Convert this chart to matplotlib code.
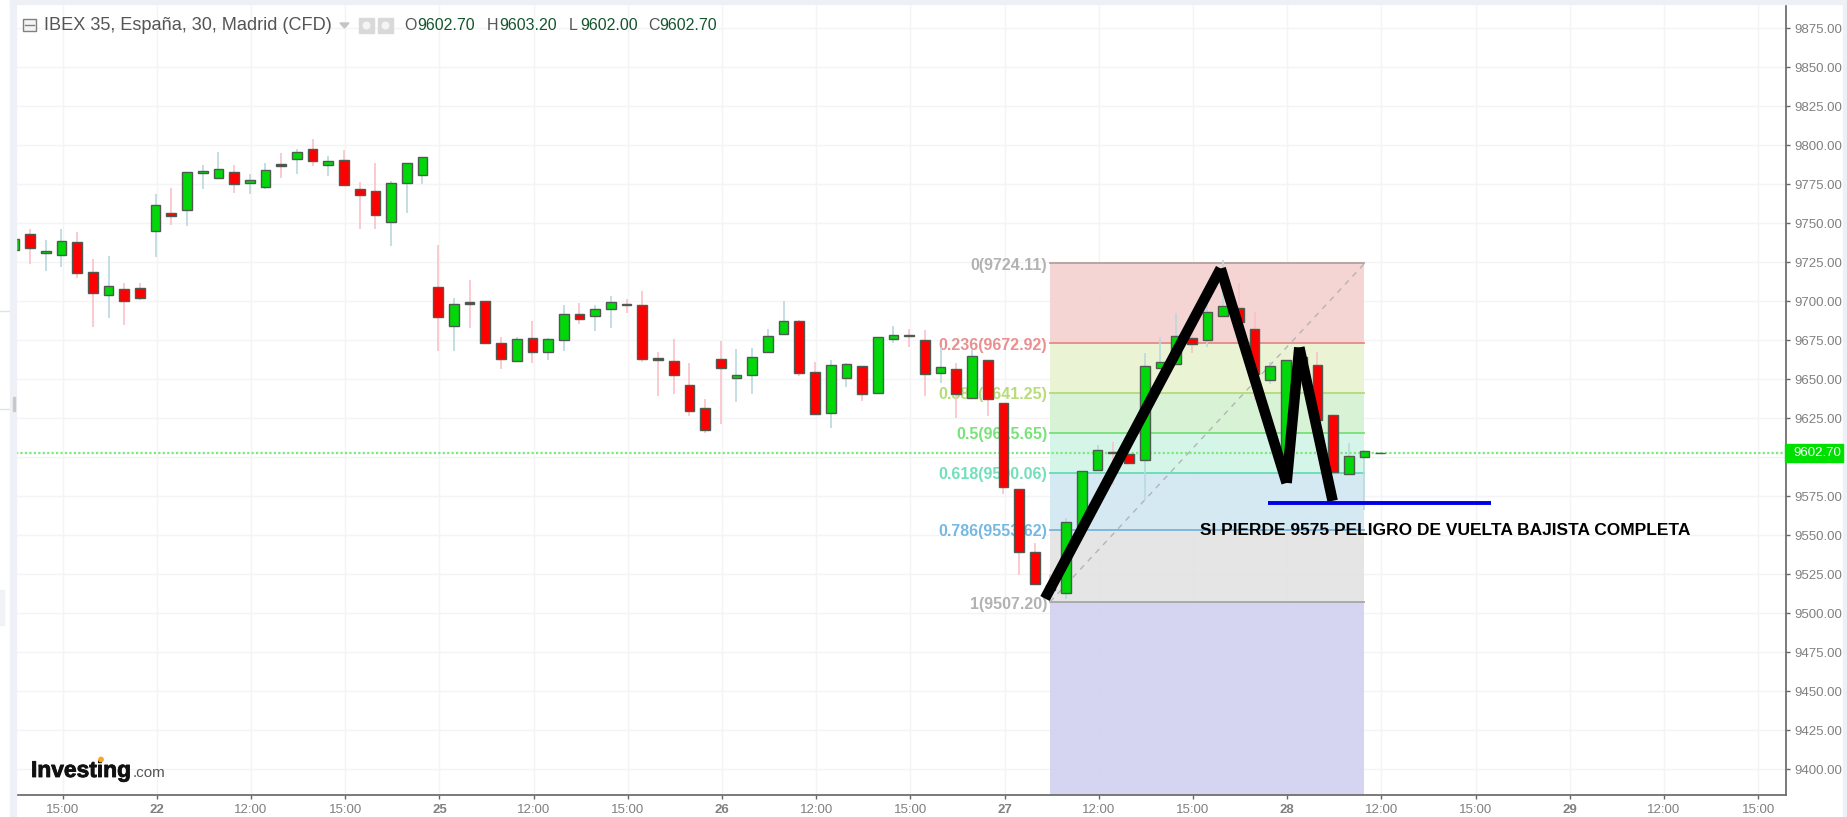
import matplotlib
matplotlib.use("Agg")
import matplotlib.pyplot as plt
import matplotlib.patheffects as pe
from matplotlib.patches import Rectangle, Polygon, Ellipse
from matplotlib.lines import Line2D

plt.rcParams['font.family'] = ['Liberation Sans', 'DejaVu Sans']

W = 1847
H = 817

# candles, oldest first
opens = [9732.7, 9742.9, 9731.0, 9729.5, 9737.8, 9718.4, 9703.6, 9707.5, 9708.3, 9744.8,
         9756.2, 9758.5, 9782.2, 9778.6, 9782.7, 9775.8, 9773.1, 9787.8, 9791.0, 9797.2,
         9787.4, 9790.6, 9772.0, 9770.3, 9750.6, 9776.0, 9781.0, 9709.2, 9684.2, 9699.2,
         9700.2, 9672.9, 9661.8, 9676.5, 9667.5, 9674.8, 9691.7, 9690.6, 9694.9, 9698.3,
         9697.4, 9663.7, 9661.3, 9646.2, 9631.6, 9662.8, 9650.9, 9652.4, 9667.5, 9679.1,
         9687.4, 9654.7, 9628.4, 9650.9, 9658.3, 9640.8, 9675.4, 9678.6, 9675.2, 9653.9,
         9656.2, 9637.8, 9662.0, 9634.6, 9579.5, 9539.1, 9517.9, 9513.2, 9555.3, 9591.7,
         9603.6, 9601.7, 9598.1, 9657.3, 9659.6, 9676.5, 9675.0, 9690.6, 9695.7, 9682.0,
         9649.6, 9602.3, 9664.0, 9659.0, 9627.3, 9588.9, 9599.8, 9602.7]
highs = [9739.5, 9746.1, 9739.1, 9746.1, 9744.6, 9727.1, 9728.8, 9711.9, 9711.9, 9768.4,
         9772.8, 9782.5, 9787.2, 9795.3, 9787.2, 9781.4, 9788.6, 9794.6, 9797.4, 9803.8,
         9792.9, 9796.8, 9776.3, 9788.6, 9776.9, 9788.4, 9792.5, 9736.0, 9701.7, 9713.5,
         9700.2, 9677.1, 9676.7, 9687.4, 9676.1, 9697.4, 9698.5, 9697.4, 9703.2, 9701.1,
         9706.2, 9667.1, 9675.4, 9660.1, 9637.2, 9674.4, 9669.5, 9670.1, 9682.1, 9699.8,
         9687.8, 9660.7, 9662.2, 9660.1, 9658.6, 9677.1, 9684.0, 9682.3, 9681.6, 9670.7,
         9660.1, 9668.6, 9662.2, 9634.8, 9579.7, 9545.1, 9525.4, 9560.7, 9591.2, 9607.7,
         9609.8, 9602.3, 9666.5, 9676.7, 9692.5, 9681.4, 9698.5, 9726.3, 9711.3, 9693.2,
         9661.1, 9662.0, 9666.0, 9667.1, 9627.3, 9608.8, 9604.5, 9603.2]
lows = [9732.7, 9724.1, 9719.2, 9722.0, 9714.9, 9683.1, 9688.9, 9684.6, 9700.6, 9728.0,
        9748.7, 9748.1, 9772.0, 9778.6, 9769.2, 9768.6, 9771.6, 9779.2, 9781.4, 9786.5,
        9780.1, 9774.5, 9746.1, 9746.1, 9735.2, 9756.2, 9775.0, 9668.2, 9668.2, 9682.5,
        9673.3, 9656.4, 9661.8, 9660.1, 9662.2, 9668.0, 9685.3, 9681.0, 9682.5, 9692.5,
        9660.9, 9639.1, 9640.4, 9626.3, 9615.2, 9621.2, 9635.5, 9640.6, 9667.5, 9679.0,
        9652.1, 9626.9, 9619.0, 9645.1, 9636.1, 9640.8, 9672.9, 9670.3, 9639.1, 9647.2,
        9624.8, 9637.8, 9626.1, 9576.3, 9524.4, 9518.8, 9513.7, 9509.4, 9555.3, 9591.7,
        9582.0, 9596.2, 9572.4, 9657.3, 9659.6, 9666.9, 9670.3, 9690.6, 9675.0, 9636.5,
        9646.8, 9598.1, 9658.0, 9623.7, 9590.4, 9588.9, 9566.0, 9602.0]
closes = [9739.5, 9733.9, 9732.2, 9738.6, 9717.9, 9705.1, 9709.8, 9700.0, 9702.1, 9761.7,
          9754.7, 9782.5, 9783.5, 9784.8, 9775.2, 9777.8, 9784.2, 9786.7, 9795.7, 9789.7,
          9789.9, 9774.5, 9767.9, 9755.5, 9775.4, 9788.4, 9792.1, 9690.0, 9698.3, 9697.9,
          9673.3, 9662.6, 9675.7, 9667.5, 9675.9, 9691.7, 9688.5, 9695.1, 9699.6, 9697.2,
          9662.6, 9662.4, 9652.6, 9629.3, 9617.7, 9657.3, 9652.8, 9664.1, 9677.8, 9687.4,
          9653.9, 9627.8, 9659.0, 9659.8, 9640.2, 9677.1, 9678.0, 9677.6, 9653.0, 9657.7,
          9640.2, 9664.8, 9637.2, 9580.8, 9539.5, 9518.8, 9514.7, 9558.5, 9591.2, 9604.3,
          9602.6, 9596.2, 9658.3, 9661.1, 9677.8, 9672.6, 9692.9, 9696.8, 9686.7, 9653.6,
          9658.3, 9662.0, 9660.0, 9623.7, 9590.4, 9600.6, 9604.1, 9602.7]

y_ticks = [9400 + 25 * i for i in range(20)]
x_tick_pos = [3.08 + 6 * i for i in range(19)]
x_labels = ["15:00", "22", "12:00", "15:00", "25", "12:00", "15:00", "26", "12:00", "15:00",
            "27", "12:00", "15:00", "28", "12:00", "15:00", "29", "12:00", "15:00"]

last_price = 9602.70

# fibonacci tool
fib_levels = ["0", "0.236", "0.382", "0.5", "0.618", "0.786", "1"]
fib_prices = [9724.11, 9672.92, 9641.25, 9615.65, 9590.06, 9553.62, 9507.20]
fib_lines = ["#b3a0a0", "#e58a8a", "#b5da78", "#78e078", "#66dcb4", "#78b4d8", "#a6a6a6"]
fib_text = ["#a8a8a8", "#e88080", "#aed868", "#66e066", "#5fdcb0", "#62b0e0", "#a8a8a8"]
fib_fills = ["#f4d2d0", "#e9f4d2", "#d5f2d2", "#d3f5e8", "#d2e8f3", "#e3e3e3", "#d2d2f2"]
fib_x = [65.97, 86.0]

# hand drawn marks on the chart
zig_x = [65.65, 76.84, 81.04, 81.85, 83.97]
zig_y = [9509.4, 9720.9, 9583.5, 9670.3, 9572.0]
blue_x = [79.87, 94.06]
blue_y = [9570.9, 9570.9]
note = "SI PIERDE 9575 PELIGRO DE VUELTA BAJISTA COMPLETA"


def fx(px):
    return px / W


def fy(py):
    return 1 - py / H


def box(fig, x0, y0, x1, y1, **kw):
    fig.add_artist(Rectangle((fx(x0), fy(y1)), (x1 - x0) / W, (y1 - y0) / H,
                             transform=fig.transFigure, **kw))


def dot(fig, x, y, r, **kw):
    fig.add_artist(Ellipse((fx(x), fy(y)), 2 * r / W, 2 * r / H, transform=fig.transFigure, **kw))


fig = plt.figure(figsize=(W / 100, H / 100), dpi=100, facecolor="white")
ax = fig.add_axes([fx(16), fy(795.3), (1785.7 - 16) / W, (795.3 - 4) / H])
ax.set_xlim(0.108, 112.83)
ax.set_ylim(9383.3, 9890.4)

ax.set_xticks(x_tick_pos)
ax.set_xticklabels(x_labels, fontsize=9.5, color="#808080")
for i in [1, 4, 7, 10, 13, 16]:
    ax.get_xticklabels()[i].set_fontweight("bold")
ax.yaxis.tick_right()
ax.set_yticks(y_ticks)
# 9600 sits under the last price tag, so its label is not shown
ax.set_yticklabels(["" if v == 9600 else "%.2f" % v for v in y_ticks], fontsize=9.5, color="#808080")
ax.tick_params(axis="both", length=3, width=1, color="#666666", pad=3.5)
ax.grid(True, color="#f4f4f6", linewidth=1.0, zorder=0)
ax.set_axisbelow(True)
for s in ["top", "left"]:
    ax.spines[s].set_visible(False)
for s in ["right", "bottom"]:
    ax.spines[s].set_color("#707070")
    ax.spines[s].set_linewidth(1.3)

# fib bands and levels
bottoms = fib_prices[1:] + [9383.3]
for top, bot, c in zip(fib_prices, bottoms, fib_fills):
    ax.fill_between(fib_x, bot, top, color=c, linewidth=0, alpha=0.93, zorder=1)
for lev, p, lc, tc in zip(fib_levels, fib_prices, fib_lines, fib_text):
    ax.plot(fib_x, [p, p], color=lc, linewidth=1.3, zorder=2)
    ax.annotate("%s(%.2f)" % (lev, p), (fib_x[0], p), xytext=(-2, -1.5),
                textcoords="offset points", ha="right", va="center",
                fontsize=11.5, fontweight="bold", color=tc, alpha=0.88, zorder=2)
ax.plot(fib_x, [fib_prices[-1], fib_prices[0]], color="#b4b4b4", linewidth=1,
        linestyle=(0, (4, 4)), zorder=2)

ax.axhline(last_price, color="#7aea7a", linewidth=1.6, linestyle=(0, (1, 1)), zorder=3)

# candles
for i in range(len(opens)):
    up = closes[i] >= opens[i]
    wick = "#b9d9de" if up else "#f9c2c8"
    body = "#00d80a" if up else "#ff0000"
    ax.vlines(i, lows[i], highs[i], color=wick, linewidth=1.2, zorder=3)
    ax.bar(i, abs(closes[i] - opens[i]), bottom=min(opens[i], closes[i]), width=0.62,
           color=body, edgecolor="#505a50", linewidth=1.0, zorder=4)

# black zigzag, segments drawn one by one like the original
for i in range(len(zig_x) - 1):
    ax.add_line(Line2D(zig_x[i:i + 2], zig_y[i:i + 2], color="black", linewidth=7.6,
                       solid_capstyle="butt", zorder=6))
ax.plot(blue_x, blue_y, color="#0000e6", linewidth=2.8, solid_capstyle="butt", zorder=7)
ax.text(75.5, 9553.0, note, fontsize=12.5, fontweight="bold", color="black",
        ha="left", va="center", zorder=8)

# frame strips around the widget
box(fig, 10, 0, 16, H, color="#eef0f5", zorder=5)
box(fig, 10, 0, W, 4, color="#eef0f5", zorder=5)
box(fig, 1843, 0, W, H, color="#eef0f5", zorder=5)
box(fig, 0, 590, 4, 625, color="#f0f2f6", zorder=5)
box(fig, 12.5, 397, 15, 411, color="#c8c8c8", zorder=6)
fig.add_artist(Line2D([0, fx(10)], [fy(409), fy(409)], color="#d5e6ee", linewidth=1))
fig.add_artist(Line2D([0, fx(10)], [fy(311), fy(311)], color="#d5e6ee", linewidth=1))

# last price tag
box(fig, 1785, 444, 1843, 462, color="#00e000", zorder=6)
fig.text(fx(1793), fy(453.5), "%.2f" % last_price, color="white", fontsize=9.5,
         va="center", ha="left", zorder=7)

# header
box(fig, 23, 18.5, 36, 30.5, facecolor="#f4f4f4", edgecolor="#808080", linewidth=1, zorder=6)
fig.add_artist(Line2D([fx(25), fx(34)], [fy(24.5), fy(24.5)], color="#808080", linewidth=1, zorder=7))
fig.text(fx(43.5), fy(25), "IBEX 35, España, 30, Madrid (CFD)", color="#555555",
         fontsize=13.1, va="center", ha="left")
fig.add_artist(Polygon([[fx(340), fy(23)], [fx(349), fy(23)], [fx(344.5), fy(28)]],
                       closed=True, color="#c4c4c4", transform=fig.transFigure))
for x0 in [359, 378]:
    box(fig, x0, 18, x0 + 15, 33, color="#d9d9d9", zorder=6)
    dot(fig, x0 + 7.5, 25.5, 4, facecolor="#f4f4f4", edgecolor="none", zorder=7)
for letter, val, lx, vx in [("O", 9602.70, 404, 417), ("H", 9603.20, 486.5, 499),
                            ("L", 9602.00, 569, 580), ("C", 9602.70, 648, 659)]:
    fig.text(fx(lx), fy(25), letter, color="#555555", fontsize=11.5, va="center", ha="left")
    fig.text(fx(vx), fy(25), "%.2f" % val, color="#14562e", fontsize=11.5, va="center", ha="left")

# logo
fig.text(fx(31), fy(777), "Investing", color="#111111", fontsize=16.4, fontweight="bold",
         va="baseline", ha="left", zorder=8,
         path_effects=[pe.withStroke(linewidth=0.6, foreground="#111111")])
fig.text(fx(133), fy(777), ".com", color="#555555", fontsize=11, va="baseline", ha="left", zorder=8)
dot(fig, 101, 759.5, 2.2, color="#f7a823", zorder=9)

fig.savefig("out.png", dpi=100, facecolor="white")
